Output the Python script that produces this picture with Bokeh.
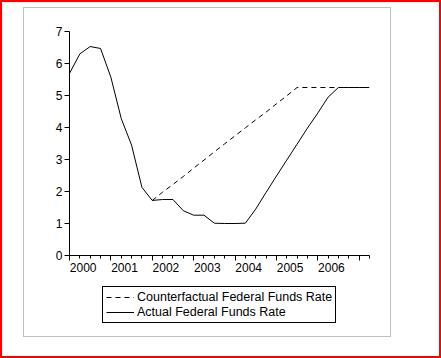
from bokeh.plotting import figure
from bokeh.layouts import column
from bokeh.models import FixedTicker, Legend, LegendItem, Range1d, LinearAxis
from bokeh.embed import file_html
from bokeh.resources import INLINE

# ---- data (quarterly) ----
quarters = [f"{y}Q{q}" for y in range(2000, 2008) for q in range(1, 5)][:30]
actual = [5.69, 6.30, 6.53, 6.47, 5.57, 4.28, 3.45, 2.13, 1.72, 1.75, 1.75, 1.40,
          1.26, 1.26, 1.01, 1.00, 1.00, 1.01, 1.45, 1.97, 2.48, 2.98, 3.48, 3.98,
          4.45, 4.95, 5.25, 5.25, 5.25, 5.25]
cf_quarters = quarters[8:27]
counterfactual = [1.72, 1.98, 2.22, 2.47, 2.73, 2.98, 3.24, 3.49, 3.74, 3.99,
                  4.24, 4.48, 4.74, 4.99, 5.25, 5.25, 5.25, 5.25, 5.25]
year_ticks = [2000, 2001, 2002, 2003, 2004, 2005, 2006, 2007]
year_labels = ["2000", "2001", "2002", "2003", "2004", "2005", "2006"]
y_ticks = [0, 1, 2, 3, 4, 5, 6, 7]
series_names = ["Counterfactual Federal Funds Rate", "Actual Federal Funds Rate"]


def qpos(label):
    return int(label[:4]) + (int(label[5]) - 1) / 4.0


x_actual = [qpos(q) for q in quarters]
x_cf = [qpos(q) for q in cf_quarters]
minor = [qpos(q) for q in quarters if not q.endswith("Q1")]
label_pos = [int(l) + 0.33 for l in year_labels]

FONT = "Liberation Sans"
CF_DASH = "5 4"

# ---------------- chart ----------------
p = figure(width=366, height=272,
           min_border_left=45, min_border_right=21, min_border_top=23, min_border_bottom=25,
           x_range=Range1d(2000.0, 2007.25), y_range=Range1d(0, 7),
           x_axis_location=None,
           output_backend="svg", toolbar_location=None)
p.background_fill_color = "white"
p.border_fill_color = "white"
p.outline_line_color = None
p.xgrid.visible = False
p.ygrid.visible = False

p.line(x_cf, counterfactual, line_color="black", line_width=1, line_dash=CF_DASH)
p.line(x_actual, actual, line_color="black", line_width=1)

# x axis with year ticks and quarter minor ticks (no labels)
xa = LinearAxis(ticker=FixedTicker(ticks=year_ticks, minor_ticks=minor))
xa.major_label_overrides = {t: "" for t in year_ticks}
xa.major_tick_in = 0
xa.major_tick_out = 5
xa.minor_tick_in = 0
xa.minor_tick_out = 3
xa.major_label_standoff = 0
xa.axis_line_color = "black"
xa.major_tick_line_color = "black"
xa.minor_tick_line_color = "black"
p.add_layout(xa, "below")

# x axis carrying the year labels, set just right of each year tick
xl = LinearAxis(ticker=FixedTicker(ticks=label_pos, minor_ticks=[]))
xl.major_label_overrides = {pos: lab for pos, lab in zip(label_pos, year_labels)}
xl.major_tick_in = 0
xl.major_tick_out = 0
xl.minor_tick_out = 0
xl.axis_line_color = None
xl.major_label_standoff = 2
xl.major_label_text_font = FONT
xl.major_label_text_font_size = "12px"
xl.major_label_text_color = "black"
p.add_layout(xl, "below")

ya = p.yaxis[0]
ya.ticker = FixedTicker(ticks=y_ticks, minor_ticks=[])
ya.major_tick_in = 0
ya.major_tick_out = 5
ya.minor_tick_out = 0
ya.major_label_standoff = 2
ya.major_label_text_font = FONT
ya.major_label_text_font_size = "12px"
ya.major_label_text_color = "black"
ya.axis_line_color = "black"
ya.major_tick_line_color = "black"

# ---------------- legend strip (series kept outside its view range) ----------------
lg = figure(width=366, height=56, min_border=0,
            x_range=Range1d(0, 1), y_range=Range1d(0, 1),
            x_axis_location=None, y_axis_location=None,
            output_backend="svg", toolbar_location=None)
lg.background_fill_color = "white"
lg.border_fill_color = "white"
lg.outline_line_color = None
lg.xgrid.visible = False
lg.ygrid.visible = False
r_cf = lg.line(x_cf, counterfactual, line_color="black", line_width=1, line_dash=CF_DASH)
r_ac = lg.line(x_actual, actual, line_color="black", line_width=1)

legend = Legend(items=[LegendItem(label=series_names[0], renderers=[r_cf]),
                       LegendItem(label=series_names[1], renderers=[r_ac])],
                location=(33, 13), orientation="vertical",
                border_line_color="black", border_line_width=1, border_line_alpha=1,
                background_fill_color="white", background_fill_alpha=1,
                label_text_font=FONT, label_text_font_size="12.5px", label_text_color="black",
                glyph_width=28, glyph_height=14, label_height=14, label_standoff=3,
                padding=3, spacing=1, margin=0)
lg.add_layout(legend, "center")

inner = column(p, lg, spacing=0, styles={"border": "1px solid #c0c0c0"})
root = column(inner, styles={"border": "2px solid #ff0000",
                             "padding": "5px 48px 19px 21px",
                             "background-color": "white"})

open("out.html", "w").write(file_html(root, INLINE))
